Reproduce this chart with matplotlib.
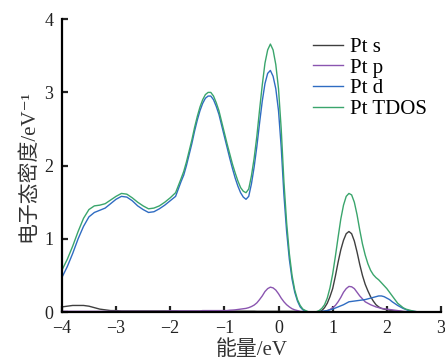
import numpy as np
import matplotlib
matplotlib.use('Agg')
import matplotlib.pyplot as plt

plt.rcParams['font.family'] = ['Liberation Serif', 'Noto Sans CJK SC', 'DejaVu Sans']

# Energy grid (eV): 0.1 eV steps in the flat parts, 0.05 eV around the sharp peaks
energy = np.concatenate([np.round(np.arange(-4.0, -1.85, 0.1), 2),
                         np.round(np.arange(-1.8, 2.425, 0.05), 2),
                         np.round(np.arange(2.5, 3.05, 0.1), 2)])

# values
pt_s = ([0.07, 0.08, 0.09, 0.09, 0.09, 0.08, 0.06, 0.04, 0.03, 0.02, 0.02]
        + [0.015] * 11
        + [0.012] * 28 + [0.01] * 15
        + [0.008, 0.005, 0.003, 0.002, 0.0, 0.0, 0.0, 0.0]
        + [0.005, 0.02, 0.06, 0.12, 0.21, 0.32, 0.49, 0.68, 0.85, 0.98,
           1.07, 1.10, 1.07, 0.97, 0.82, 0.65, 0.50, 0.38, 0.29, 0.21,
           0.15, 0.10, 0.07, 0.05, 0.04, 0.03, 0.025, 0.02, 0.015, 0.01,
           0.008, 0.005, 0.003, 0.0]
        + [0.0] * 6)

pt_p = ([0.01] * 20 + [0.015] * 2
        + [0.015] * 8 + [0.02] * 10
        + [0.025, 0.027, 0.03, 0.035, 0.04, 0.045, 0.05, 0.06, 0.075, 0.095,
           0.125, 0.17, 0.22, 0.28, 0.32, 0.34, 0.33, 0.30, 0.25, 0.19,
           0.14, 0.10, 0.07, 0.045, 0.03, 0.02, 0.01, 0.007, 0.004, 0.002,
           0.0, 0.0, 0.0, 0.002, 0.005, 0.01, 0.02, 0.035, 0.06, 0.09,
           0.14, 0.20, 0.27, 0.32, 0.35, 0.345, 0.32, 0.27, 0.22, 0.18,
           0.14, 0.12, 0.10, 0.085, 0.07, 0.06, 0.05, 0.045, 0.04, 0.035,
           0.03, 0.025, 0.02, 0.015, 0.01, 0.007, 0.005]
        + [0.0] * 6)

pt_d = ([0.47, 0.62, 0.80, 1.00, 1.17, 1.30, 1.36, 1.39, 1.42, 1.48,
         1.54, 1.58, 1.57, 1.52, 1.45, 1.40, 1.36, 1.37, 1.41, 1.46,
         1.52, 1.58]
        + [1.78, 1.87, 2.00, 2.15, 2.30, 2.47, 2.62, 2.75, 2.85, 2.92,
           2.95, 2.95, 2.90, 2.81, 2.70, 2.55, 2.40, 2.25, 2.10, 1.96,
           1.83, 1.72, 1.63, 1.57, 1.54, 1.58, 1.75, 1.98, 2.26, 2.58,
           2.88, 3.12, 3.26, 3.30, 3.22, 3.05, 2.75, 2.25, 1.60, 1.10,
           0.72, 0.45, 0.27, 0.15, 0.07, 0.03, 0.01, 0.0, 0.0, 0.0,
           0.0, 0.005, 0.01, 0.015, 0.02, 0.03, 0.04, 0.055, 0.07, 0.085,
           0.10, 0.12, 0.14, 0.145, 0.15, 0.155, 0.16, 0.165, 0.17, 0.18,
           0.19, 0.20, 0.21, 0.22, 0.22, 0.21, 0.19, 0.17, 0.14, 0.115,
           0.09, 0.07, 0.05, 0.035, 0.02]
        + [0.01, 0.0, 0.0, 0.0, 0.0, 0.0])

pt_tdos = ([0.57, 0.72, 0.90, 1.10, 1.28, 1.40, 1.45, 1.46, 1.48, 1.53,
            1.58, 1.62, 1.61, 1.56, 1.50, 1.45, 1.41, 1.42, 1.45, 1.50,
            1.56, 1.63]
           + [1.82, 1.92, 2.05, 2.20, 2.35, 2.52, 2.67, 2.80, 2.90, 2.97,
              3.00, 3.00, 2.95, 2.86, 2.75, 2.60, 2.45, 2.30, 2.16, 2.02,
              1.90, 1.79, 1.70, 1.65, 1.63, 1.68, 1.86, 2.10, 2.40, 2.76,
              3.10, 3.40, 3.58, 3.66, 3.58, 3.38, 3.05, 2.50, 1.78, 1.22,
              0.80, 0.50, 0.30, 0.17, 0.09, 0.04, 0.02, 0.005, 0.0, 0.0,
              0.005, 0.02, 0.05, 0.10, 0.19, 0.33, 0.52, 0.76, 1.02, 1.27,
              1.46, 1.58, 1.62, 1.60, 1.50, 1.33, 1.12, 0.93, 0.78, 0.66,
              0.57, 0.51, 0.47, 0.44, 0.40, 0.36, 0.32, 0.27, 0.22, 0.17,
              0.12, 0.09, 0.06, 0.04, 0.03]
           + [0.01, 0.0, 0.0, 0.0, 0.0, 0.0])

labels = ['Pt s', 'Pt p', 'Pt d', 'Pt TDOS']
colors = ['#3f3f3f', '#8a55b0', '#2f6cc2', '#3aa56c']

fig = plt.figure(figsize=(4.45, 3.62), dpi=100)
ax = fig.add_axes([0.139, 0.138, 0.852, 0.809])

for y, lab, c in zip([pt_s, pt_p, pt_d, pt_tdos], labels, colors):
    ax.plot(energy, y, color=c, lw=1.0, label=lab)

ax.set_xlim(-4, 3)
ax.set_ylim(0, 4)
ax.set_xticks(range(-4, 4))
ax.set_yticks(range(0, 5))
ax.spines['top'].set_visible(False)
ax.spines['right'].set_visible(False)
for s in ['left', 'bottom']:
    ax.spines[s].set_linewidth(1.6)
ax.tick_params(direction='in', length=4, width=1.6, labelsize=13, colors='#222222')
ax.tick_params(axis='x', pad=6)
ax.tick_params(axis='y', pad=6)

ax.set_xlabel('能量/eV', fontsize=15, labelpad=2, color='#333333')
ax.set_ylabel('电子态密度/eV⁻¹', fontsize=15, labelpad=4, color='#333333')

ax.legend(loc='upper left', bbox_to_anchor=(0.662, 0.938), frameon=False,
          borderaxespad=0, borderpad=0, fontsize=15, handlelength=1.45,
          handletextpad=0.35, labelspacing=0.05)

fig.savefig('out.png', dpi=100)
